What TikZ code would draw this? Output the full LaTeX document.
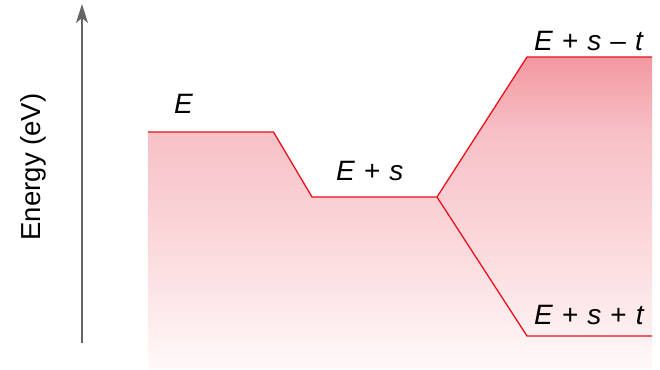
\documentclass[tikz,border=0pt]{standalone}
\usepackage{fontspec}
\setmainfont{Liberation Sans}
\usetikzlibrary{arrows.meta}
\definecolor{levelred}{RGB}{232,16,28}
\definecolor{axisgray}{RGB}{100,100,100}
\definecolor{shA}{RGB}{242,152,160}
\definecolor{shB}{RGB}{247,192,198}
\definecolor{shC}{RGB}{251,218,221}
\definecolor{shD}{RGB}{255,249,249}
\pgfdeclareverticalshading{energyshade}{100bp}{color(0bp)=(shD); color(25bp)=(shD); color(44bp)=(shC); color(63bp)=(shB); color(75bp)=(shA); color(100bp)=(shA)}
\newcommand{\gap}{\hspace{9pt}}
\tikzset{
  level/.style={draw=levelred, line width=1.3pt, line join=miter},
  lbl/.style={font=\fontsize{28}{32}\selectfont, inner sep=0pt, anchor=base west},
  axisline/.style={draw=axisgray, line width=1.5pt, -{Stealth[length=19pt,width=12pt,inset=5pt]}}
}
\begin{document}
\begin{tikzpicture}[x=1pt,y=-1pt]
\useasboundingbox (0,0) rectangle (660,369);
% level coordinates
\coordinate (E0) at (148,132);
\coordinate (E1) at (273.5,132);
\coordinate (S0) at (312,197);
\coordinate (S1) at (437,197);
\coordinate (U0) at (527,57);
\coordinate (U1) at (652,57);
\coordinate (L0) at (527,336);
\coordinate (L1) at (652,336);
\coordinate (B1) at (652,369);
\coordinate (B0) at (148,369);
% shaded area
\shade[shading=energyshade] (E0) -- (E1) -- (S0) -- (S1) -- (U0) -- (U1) -- (B1) -- (B0) -- cycle;
% levels
\draw[level] (E0) -- (E1) -- (S0) -- (S1) -- (U0) -- (U1);
\draw[level] (S1) -- (L0) -- (L1);
% axis
\coordinate (A0) at (82,343);
\coordinate (A1) at (82,4);
\draw[axisline] (A0) -- (A1);
\node[font=\fontsize{27.5}{30}\selectfont, rotate=90, anchor=base, inner sep=0pt] (ylab) at (40,167) {Energy (eV)};
% labels
\node[lbl] (lE) at (174,113) {\textit{E}};
\node[lbl] (lS) at (336,180) {\textit{E}\gap+\gap\textit{s}};
\node[lbl] (lU) at (534,50) {\textit{E}\gap+\gap\textit{s}\gap–\gap\textit{t}};
\node[lbl] (lL) at (534,324) {\textit{E}\gap+\gap\textit{s}\gap+\gap\textit{t}};
\end{tikzpicture}
\end{document}
